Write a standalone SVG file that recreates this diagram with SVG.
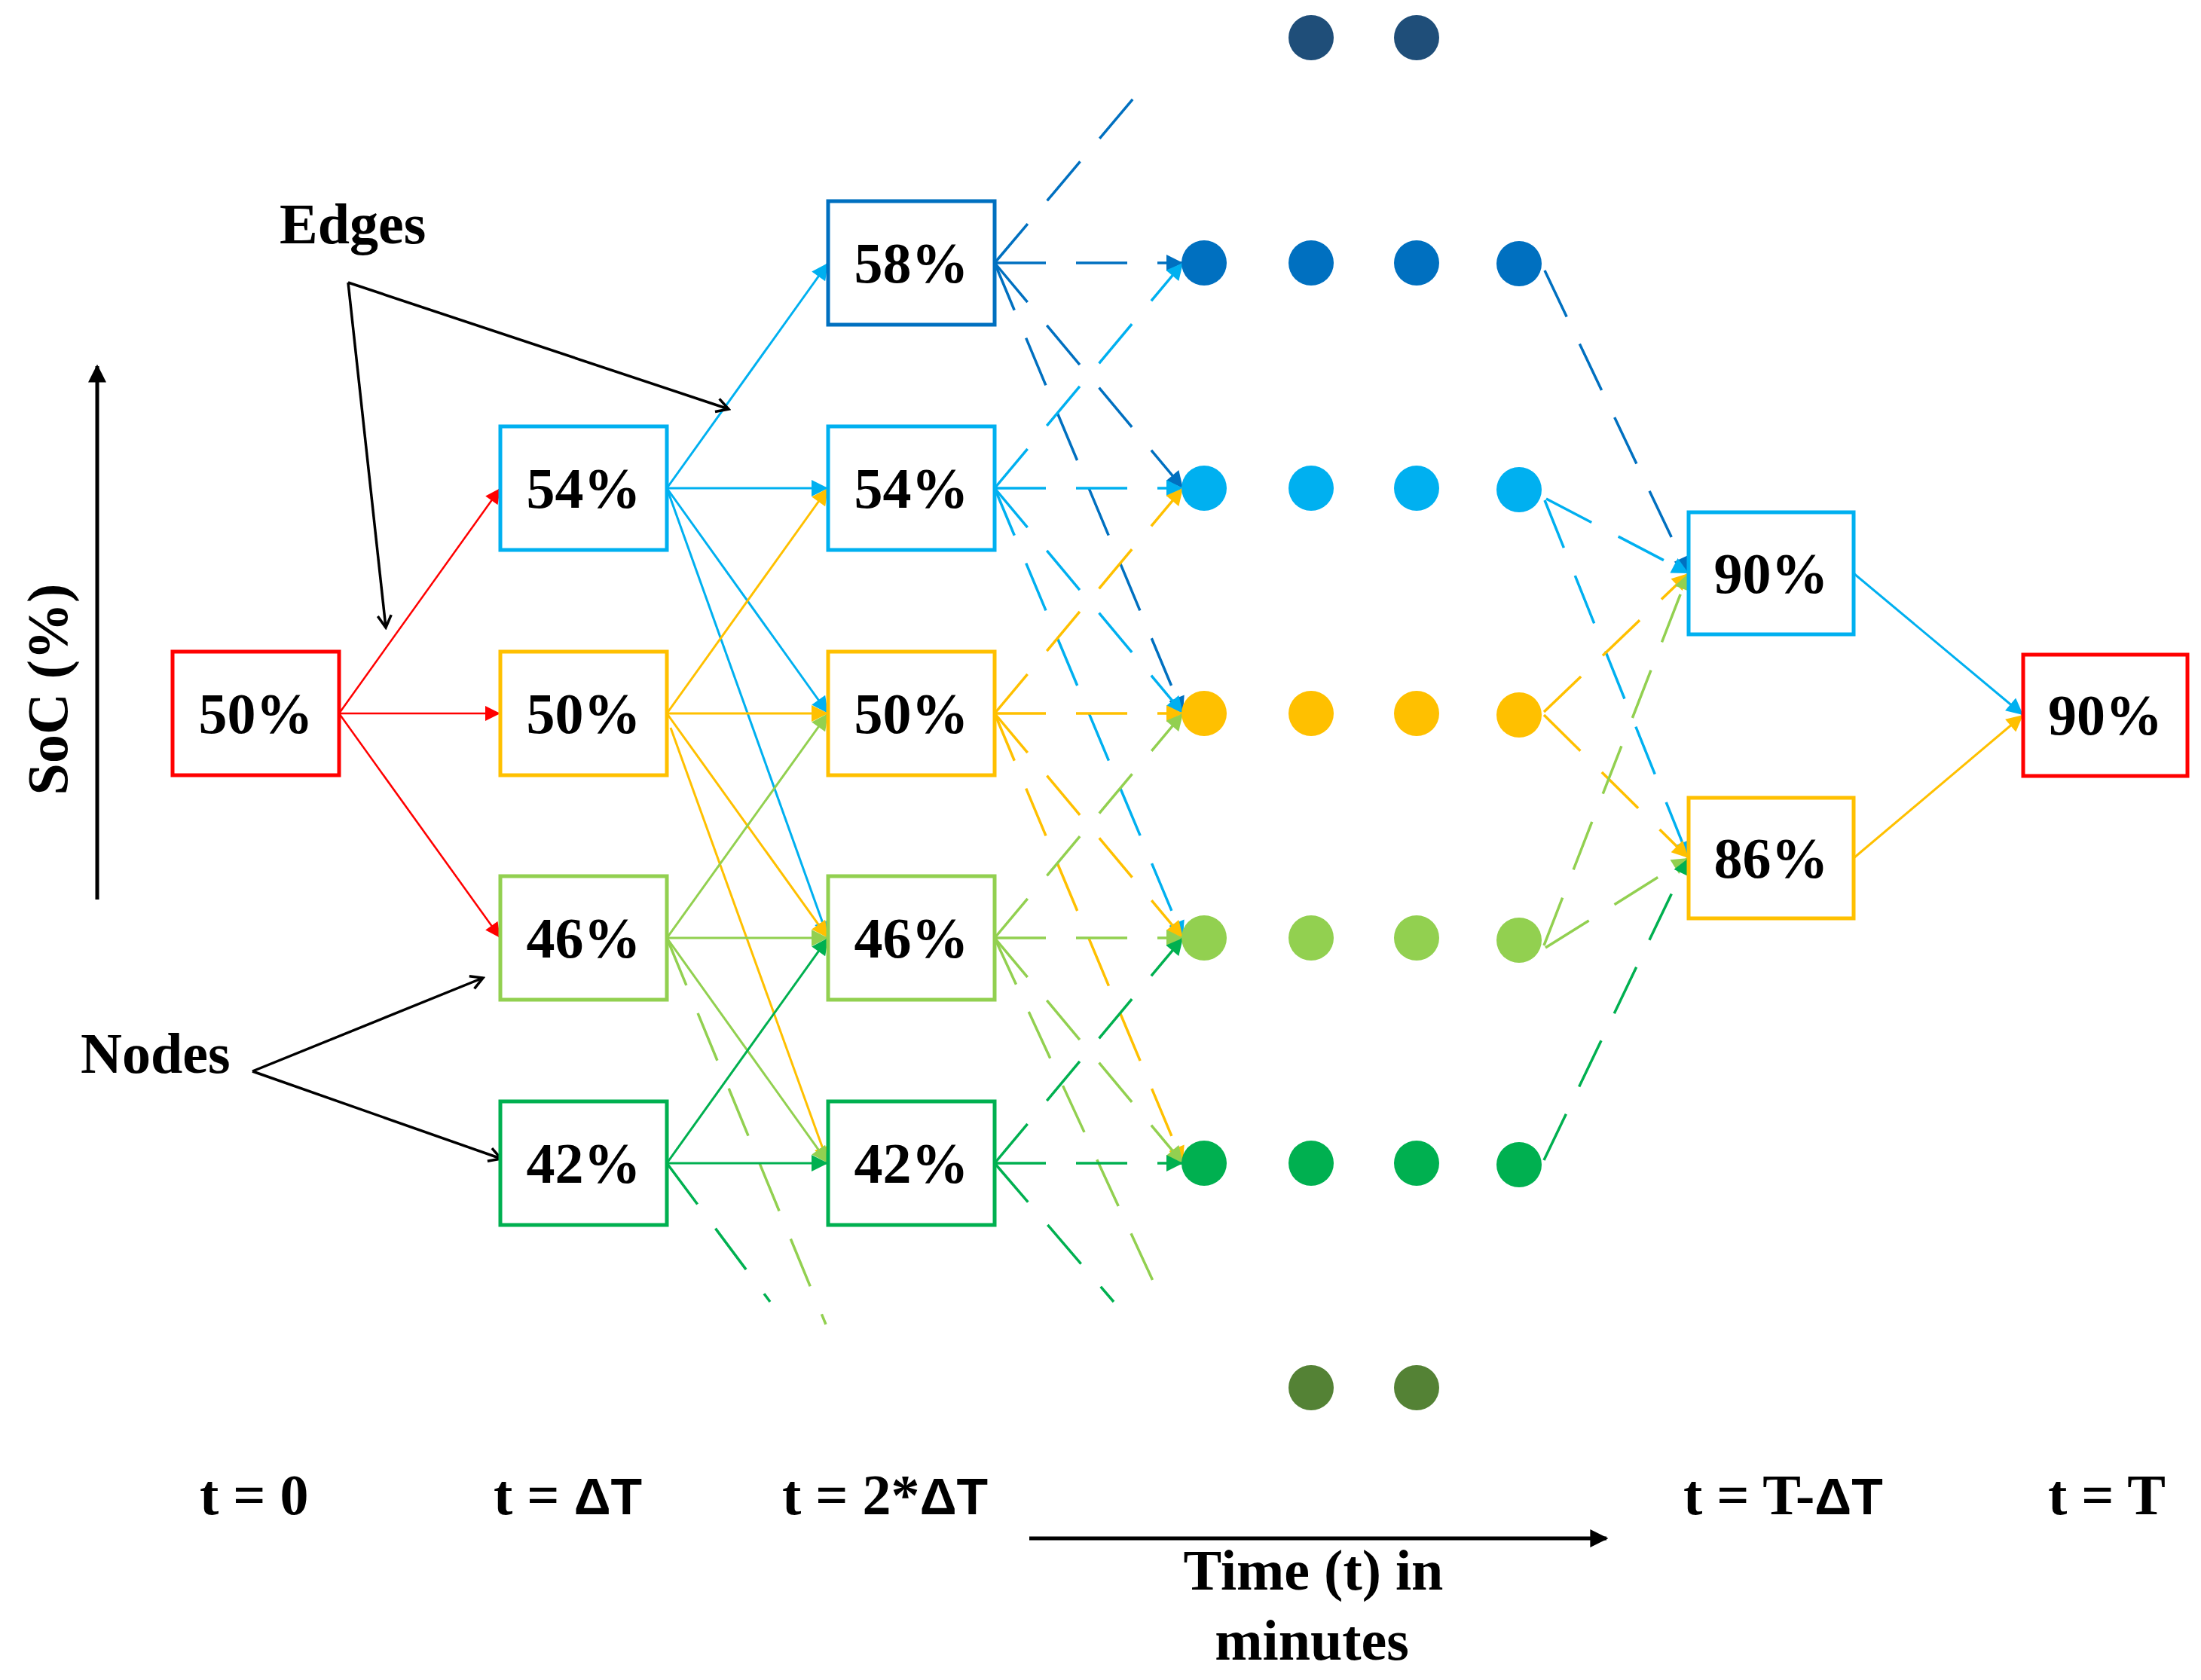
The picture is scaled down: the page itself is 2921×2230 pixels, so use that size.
<svg xmlns="http://www.w3.org/2000/svg" width="2921" height="2230" viewBox="0 0 2921 2230">
<style>
.box{fill:#fff;stroke-width:5}
.t{font-family:"Liberation Serif","Times New Roman",serif;font-weight:bold;font-size:76px;fill:#000}
.bt{text-anchor:middle}
.sans{font-family:"Liberation Sans",Arial,sans-serif;font-size:68px}
.s{fill:none;stroke-width:3}
.d{fill:none;stroke-width:3.5;stroke-dasharray:68 40}
.k{fill:none;stroke:#000;stroke-width:3.5}
</style>
<defs>
<marker id="aR" viewBox="0 0 10 10" refX="10" refY="5" markerUnits="userSpaceOnUse" markerWidth="21" markerHeight="20" orient="auto"><path d="M0,0L10,5L0,10z" fill="#FF0000"/></marker>
<marker id="aDB" viewBox="0 0 10 10" refX="10" refY="5" markerUnits="userSpaceOnUse" markerWidth="24" markerHeight="22" orient="auto"><path d="M0,0L10,5L0,10z" fill="#0070C0"/></marker>
<marker id="aB" viewBox="0 0 10 10" refX="10" refY="5" markerUnits="userSpaceOnUse" markerWidth="24" markerHeight="22" orient="auto"><path d="M0,0L10,5L0,10z" fill="#00B0F0"/></marker>
<marker id="aY" viewBox="0 0 10 10" refX="10" refY="5" markerUnits="userSpaceOnUse" markerWidth="24" markerHeight="22" orient="auto"><path d="M0,0L10,5L0,10z" fill="#FFC000"/></marker>
<marker id="aLG" viewBox="0 0 10 10" refX="10" refY="5" markerUnits="userSpaceOnUse" markerWidth="24" markerHeight="22" orient="auto"><path d="M0,0L10,5L0,10z" fill="#92D050"/></marker>
<marker id="aG" viewBox="0 0 10 10" refX="10" refY="5" markerUnits="userSpaceOnUse" markerWidth="24" markerHeight="22" orient="auto"><path d="M0,0L10,5L0,10z" fill="#00B050"/></marker>
<marker id="aK" viewBox="0 0 24 24" refX="21" refY="12" markerUnits="userSpaceOnUse" markerWidth="24" markerHeight="24" orient="auto"><path d="M5,3L21,12L5,21" fill="none" stroke="#000" stroke-width="3.5"/></marker>
<marker id="aKF" viewBox="0 0 10 10" refX="9" refY="5" markerUnits="userSpaceOnUse" markerWidth="24" markerHeight="26" orient="auto"><path d="M0,0L10,5L0,10z" fill="#000"/></marker>
</defs>

<g id="connectors">
 <!-- t=0 to t=dT -->
 <g stroke="#FF0000" class="s" style="stroke-width:2.5">
  <line x1="450" y1="947" x2="664" y2="648" marker-end="url(#aR)"/>
  <line x1="450" y1="947" x2="664" y2="947" marker-end="url(#aR)"/>
  <line x1="450" y1="947" x2="664" y2="1245" marker-end="url(#aR)"/>
 </g>
 <!-- t=dT to t=2dT -->
 <g stroke="#00B0F0" class="s">
  <line x1="885" y1="648" x2="1099" y2="349" marker-end="url(#aB)"/>
  <line x1="885" y1="648" x2="1099" y2="648" marker-end="url(#aB)"/>
  <line x1="885" y1="648" x2="1099" y2="947" marker-end="url(#aB)"/>
  <line x1="885" y1="648" x2="1099" y2="1245" marker-end="url(#aB)"/>
 </g>
 <g stroke="#FFC000" class="s">
  <line x1="885" y1="947" x2="1099" y2="648" marker-end="url(#aY)"/>
  <line x1="885" y1="947" x2="1099" y2="947" marker-end="url(#aY)"/>
  <line x1="885" y1="947" x2="1099" y2="1245" marker-end="url(#aY)"/>
  <line x1="890" y1="966" x2="1099" y2="1544" marker-end="url(#aY)"/>
 </g>
 <g stroke="#92D050" class="s">
  <line x1="885" y1="1245" x2="1099" y2="947" marker-end="url(#aLG)"/>
  <line x1="885" y1="1245" x2="1099" y2="1245" marker-end="url(#aLG)"/>
  <line x1="885" y1="1245" x2="1099" y2="1544" marker-end="url(#aLG)"/>
 </g>
 <line x1="885" y1="1245" x2="1096" y2="1758" stroke="#92D050" class="d"/>
 <g stroke="#00B050" class="s">
  <line x1="885" y1="1544" x2="1099" y2="1245" marker-end="url(#aG)"/>
  <line x1="885" y1="1544" x2="1099" y2="1544" marker-end="url(#aG)"/>
 </g>
 <line x1="885" y1="1544" x2="1022" y2="1728" stroke="#00B050" class="d"/>
 <!-- t=2dT to dots -->
 <g stroke="#0070C0" class="d">
  <line x1="1320" y1="349" x2="1509" y2="125"/>
  <line x1="1320" y1="349" x2="1570" y2="349" marker-end="url(#aDB)"/>
  <line x1="1320" y1="349" x2="1570" y2="648" marker-end="url(#aDB)"/>
  <line x1="1320" y1="349" x2="1570" y2="947" marker-end="url(#aDB)"/>
 </g>
 <g stroke="#00B0F0" class="d">
  <line x1="1320" y1="648" x2="1570" y2="349" marker-end="url(#aB)"/>
  <line x1="1320" y1="648" x2="1570" y2="648" marker-end="url(#aB)"/>
  <line x1="1320" y1="648" x2="1570" y2="947" marker-end="url(#aB)"/>
  <line x1="1320" y1="648" x2="1570" y2="1245" marker-end="url(#aB)"/>
 </g>
 <g stroke="#FFC000" class="d">
  <line x1="1320" y1="947" x2="1570" y2="648" marker-end="url(#aY)"/>
  <line x1="1320" y1="947" x2="1570" y2="947" marker-end="url(#aY)"/>
  <line x1="1320" y1="947" x2="1570" y2="1245" marker-end="url(#aY)"/>
  <line x1="1320" y1="947" x2="1570" y2="1544" marker-end="url(#aY)"/>
 </g>
 <g stroke="#92D050" class="d">
  <line x1="1320" y1="1245" x2="1570" y2="947" marker-end="url(#aLG)"/>
  <line x1="1320" y1="1245" x2="1570" y2="1245" marker-end="url(#aLG)"/>
  <line x1="1320" y1="1245" x2="1570" y2="1544" marker-end="url(#aLG)"/>
  <line x1="1320" y1="1245" x2="1530" y2="1700"/>
 </g>
 <g stroke="#00B050" class="d">
  <line x1="1320" y1="1544" x2="1570" y2="1245" marker-end="url(#aG)"/>
  <line x1="1320" y1="1544" x2="1570" y2="1544" marker-end="url(#aG)"/>
  <line x1="1320" y1="1544" x2="1478" y2="1728"/>
 </g>
 <!-- last dots to t=T-dT -->
 <line x1="2050" y1="359" x2="2241" y2="761" stroke="#0070C0" class="d" marker-end="url(#aDB)"/>
 <g stroke="#00B0F0" class="d">
  <line x1="2052" y1="662" x2="2241" y2="761" marker-end="url(#aB)"/>
  <line x1="2050" y1="664" x2="2241" y2="1139" marker-end="url(#aB)"/>
 </g>
 <g stroke="#FFC000" class="d">
  <line x1="2049" y1="945" x2="2241" y2="761" marker-end="url(#aY)"/>
  <line x1="2049" y1="949" x2="2241" y2="1139" marker-end="url(#aY)"/>
 </g>
 <g stroke="#92D050" class="d">
  <line x1="2049" y1="1255" x2="2241" y2="761" marker-end="url(#aLG)"/>
  <line x1="2051" y1="1258" x2="2241" y2="1139" marker-end="url(#aLG)"/>
 </g>
 <line x1="2049" y1="1540" x2="2241" y2="1139" stroke="#00B050" class="d" marker-end="url(#aG)"/>
 <!-- t=T-dT to t=T -->
 <line x1="2460" y1="761" x2="2685" y2="949" stroke="#00B0F0" class="s" marker-end="url(#aB)"/>
 <line x1="2460" y1="1139" x2="2685" y2="949" stroke="#FFC000" class="s" marker-end="url(#aY)"/>
 <!-- annotations -->
 <line x1="462" y1="375" x2="512" y2="833" class="k" marker-end="url(#aK)"/>
 <line x1="462" y1="375" x2="967" y2="543" class="k" marker-end="url(#aK)"/>
 <line x1="335" y1="1422" x2="641" y2="1298" class="k" marker-end="url(#aK)"/>
 <line x1="335" y1="1422" x2="665" y2="1538" class="k" marker-end="url(#aK)"/>
 <line x1="129" y1="1194" x2="129" y2="486" stroke="#000" stroke-width="5" marker-end="url(#aKF)"/>
 <line x1="1366" y1="2042" x2="2132" y2="2042" stroke="#000" stroke-width="5" marker-end="url(#aKF)"/>
</g>

<g id="n0_50"><rect class="box" stroke="#FF0000" x="229" y="865" width="221" height="164"/><text class="t bt" x="339.5" y="973">50%</text></g>
<g id="n1_54"><rect class="box" stroke="#00B0F0" x="664" y="566" width="221" height="164"/><text class="t bt" x="774.5" y="674">54%</text></g>
<g id="n1_50"><rect class="box" stroke="#FFC000" x="664" y="865" width="221" height="164"/><text class="t bt" x="774.5" y="973">50%</text></g>
<g id="n1_46"><rect class="box" stroke="#92D050" x="664" y="1163" width="221" height="164"/><text class="t bt" x="774.5" y="1271">46%</text></g>
<g id="n1_42"><rect class="box" stroke="#00B050" x="664" y="1462" width="221" height="164"/><text class="t bt" x="774.5" y="1570">42%</text></g>
<g id="n2_58"><rect class="box" stroke="#0070C0" x="1099" y="267" width="221" height="164"/><text class="t bt" x="1209.5" y="375">58%</text></g>
<g id="n2_54"><rect class="box" stroke="#00B0F0" x="1099" y="566" width="221" height="164"/><text class="t bt" x="1209.5" y="674">54%</text></g>
<g id="n2_50"><rect class="box" stroke="#FFC000" x="1099" y="865" width="221" height="164"/><text class="t bt" x="1209.5" y="973">50%</text></g>
<g id="n2_46"><rect class="box" stroke="#92D050" x="1099" y="1163" width="221" height="164"/><text class="t bt" x="1209.5" y="1271">46%</text></g>
<g id="n2_42"><rect class="box" stroke="#00B050" x="1099" y="1462" width="221" height="164"/><text class="t bt" x="1209.5" y="1570">42%</text></g>
<g id="n3_90"><rect class="box" stroke="#00B0F0" x="2241" y="680" width="219" height="162"/><text class="t bt" x="2350.5" y="787">90%</text></g>
<g id="n3_86"><rect class="box" stroke="#FFC000" x="2241" y="1059" width="219" height="160"/><text class="t bt" x="2350.5" y="1165">86%</text></g>
<g id="n4_90"><rect class="box" stroke="#FF0000" x="2685" y="869" width="218" height="161"/><text class="t bt" x="2794" y="975">90%</text></g>

<g id="dots">
 <g fill="#1F4E79"><circle cx="1740" cy="50" r="30"/><circle cx="1880" cy="50" r="30"/></g>
 <g fill="#0070C0"><circle cx="1598" cy="349" r="30"/><circle cx="1740" cy="349" r="30"/><circle cx="1880" cy="349" r="30"/><circle cx="2016" cy="350" r="30"/></g>
 <g fill="#00B0F0"><circle cx="1598" cy="648" r="30"/><circle cx="1740" cy="648" r="30"/><circle cx="1880" cy="648" r="30"/><circle cx="2016" cy="650" r="30"/></g>
 <g fill="#FFC000"><circle cx="1598" cy="947" r="30"/><circle cx="1740" cy="947" r="30"/><circle cx="1880" cy="947" r="30"/><circle cx="2016" cy="949" r="30"/></g>
 <g fill="#92D050"><circle cx="1598" cy="1245" r="30"/><circle cx="1740" cy="1245" r="30"/><circle cx="1880" cy="1245" r="30"/><circle cx="2016" cy="1248" r="30"/></g>
 <g fill="#00B050"><circle cx="1598" cy="1544" r="30"/><circle cx="1740" cy="1544" r="30"/><circle cx="1880" cy="1544" r="30"/><circle cx="2016" cy="1546" r="30"/></g>
 <g fill="#548235"><circle cx="1740" cy="1842" r="30"/><circle cx="1880" cy="1842" r="30"/></g>
</g>

<g id="labels">
 <text class="t" x="371" y="323">Edges</text>
 <text class="t" x="107" y="1424">Nodes</text>
 <text class="t bt" transform="translate(89,915) rotate(-90)">SoC (%)</text>
 <text class="t" x="265" y="2010">t = 0</text>
 <text class="t" x="655" y="2010">t = <tspan class="sans">ΔT</tspan></text>
 <text class="t" x="1038" y="2010">t = 2*<tspan class="sans">ΔT</tspan></text>
 <text class="t" x="2234" y="2010">t = T-<tspan class="sans">ΔT</tspan></text>
 <text class="t" x="2718" y="2010">t = T</text>
 <text class="t bt" x="1743" y="2110">Time (t) in</text>
 <text class="t bt" x="1741" y="2203">minutes</text>
</g>
</svg>
